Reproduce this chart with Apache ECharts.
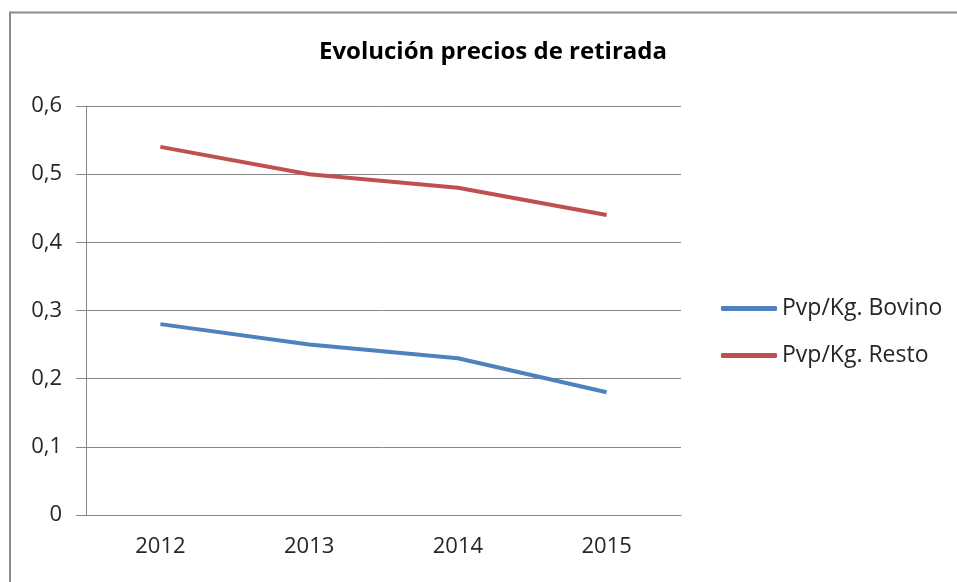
<!DOCTYPE html>
<html>
<head>
<meta charset="utf-8">
<script src="https://cdn.jsdelivr.net/npm/echarts@6/dist/echarts.min.js"></script>
<style>
  html, body { margin: 0; padding: 0; background: #fff; }
  #main { width: 957px; height: 582px; }
</style>
</head>
<body>
<div id="main"></div>
<script>
const years = ['2012', '2013', '2014', '2015']
const bovino = [0.28, 0.25, 0.23, 0.18] // Pvp/Kg. Bovino
const resto = [0.54, 0.50, 0.48, 0.44] // Pvp/Kg. Resto
const seriesNames = ['Pvp/Kg. Bovino', 'Pvp/Kg. Resto']

const font = 'Open Sans'
const axisGrey = '#878787'
const textColor = '#262626'

let chart = echarts.init(document.getElementById('main'))
chart.setOption({
  animation: false,
  textStyle: { fontFamily: font },
  title: {
    text: 'Evolución precios de retirada',
    left: 488,
    textAlign: 'center',
    top: 35,
    textStyle: { fontFamily: font, fontSize: 24, fontWeight: 'bold', color: '#000' }
  },
  graphic: [{
    type: 'rect',
    shape: { x: 10, y: 12.5, width: 1000, height: 1000 },
    style: { fill: 'none', stroke: '#8c8c8c', lineWidth: 2 },
    silent: true
  }],
  legend: {
    orient: 'vertical',
    left: 716,
    top: 290,
    itemWidth: 56,
    itemHeight: 5,
    itemGap: 20,
    icon: 'roundRect',
    data: seriesNames,
    textStyle: { fontFamily: font, fontSize: 23, color: textColor, lineHeight: 27 }
  },
  grid: { left: 86, right: 276, top: 106, bottom: 67 },
  xAxis: {
    type: 'category',
    data: years,
    boundaryGap: true,
    axisLine: { lineStyle: { color: axisGrey, width: 1 } },
    axisTick: { length: 9, lineStyle: { color: axisGrey } },
    axisLabel: { fontSize: 22, color: textColor, margin: 21 }
  },
  yAxis: {
    type: 'value',
    min: 0,
    max: 0.6,
    interval: 0.1,
    axisLine: { show: true, lineStyle: { color: axisGrey } },
    axisTick: { show: true, length: 10, lineStyle: { color: axisGrey } },
    splitLine: { lineStyle: { color: axisGrey } },
    axisLabel: {
      fontSize: 22,
      color: textColor,
      margin: 24,
      formatter: v => (Math.round(v * 10) / 10).toString().replace('.', ',')
    }
  },
  series: [{
    name: seriesNames[0],
    type: 'line',
    data: bovino,
    symbol: 'none',
    lineStyle: { width: 4, color: '#4f81bd' },
    itemStyle: { color: '#4f81bd' }
  }, {
    name: seriesNames[1],
    type: 'line',
    data: resto,
    symbol: 'none',
    lineStyle: { width: 4, color: '#c0504d' },
    itemStyle: { color: '#c0504d' }
  }]
})
</script>
</body>
</html>
